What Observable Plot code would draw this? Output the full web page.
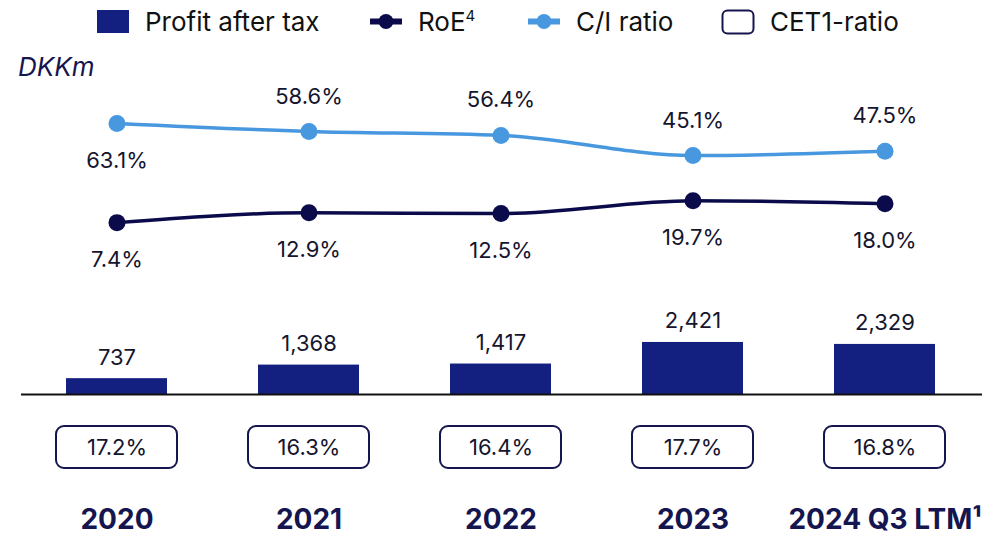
<!DOCTYPE html>
<html><head><meta charset="utf-8">
<script src="https://cdn.jsdelivr.net/npm/d3@7"></script>
<script src="https://cdn.jsdelivr.net/npm/@observablehq/plot@0.6"></script>
<style>
body{margin:0;width:998px;height:538px;position:relative;background:#fff;font-family:Inter,"Noto Sans",sans-serif;overflow:hidden}
.abs{position:absolute;left:0}
#legend text{font-family:Inter,sans-serif;font-size:26px;fill:#111}
</style></head><body>
<svg id="legend" class="abs" style="top:0" width="998" height="46">
  <rect x="97" y="10" width="32" height="23" fill="#13207f"></rect>
  <text x="145" y="31">Profit after tax</text>
  <line x1="370" x2="402" y1="21.5" y2="21.5" stroke="#0b0b4b" stroke-width="6"></line>
  <circle cx="386" cy="21.5" r="7.5" fill="#0b0b4b"></circle>
  <text x="418" y="31">RoE<tspan dy="-10" font-size="15">4</tspan></text>
  <line x1="528" x2="560" y1="21.5" y2="21.5" stroke="#4898e0" stroke-width="6"></line>
  <circle cx="544" cy="21.5" r="7.5" fill="#4898e0"></circle>
  <text x="576" y="31">C/I ratio</text>
  <rect x="722.5" y="10.5" width="31" height="23" rx="5" fill="#fff" stroke="#15154f" stroke-width="2"></rect>
  <text x="770" y="31">CET1-ratio</text>
</svg>
<div class="abs" style="left:18px;top:51px;font-style:italic;font-size:26px;color:#15154f">DKKm</div>
<div id="lines" class="abs" style="top:80px"></div>
<div id="bars" class="abs" style="top:280px"></div>
<div id="cet" class="abs" style="top:425px"></div>
<script>
const years = ["2020", "2021", "2022", "2023", "2024 Q3 LTM¹"];
const profit = [737, 1368, 1417, 2421, 2329];
const roe = [7.4, 12.9, 12.5, 19.7, 18.0];
const ci = [63.1, 58.6, 56.4, 45.1, 47.5];
const cet1 = [17.2, 16.3, 16.4, 17.7, 16.8];

const BAR = "#13207f", ROE = "#0b0b4b", CI = "#4898e0", NAVY = "#15154f", TXT = "#15152e";
const pct = v => v.toFixed(1) + "%";
const xScale = {type: "band", domain: years, paddingInner: 0.474, paddingOuter: 0, axis: null};
const common = {width: 998, marginLeft: 66, marginRight: 63, style: {fontFamily: "Inter, sans-serif", background: "transparent", overflow: "visible"}};

const ciData = years.map((y, i) => ({year: y, v: ci[i], i}));
const roeData = years.map((y, i) => ({year: y, v: roe[i], i}));
const profitData = years.map((y, i) => ({year: y, v: profit[i]}));
const cetData = years.map((y, i) => ({year: y, v: cet1[i]}));

const lines = Plot.plot({
  ...common, height: 200, marginTop: 30.7, marginBottom: 44.7,
  x: xScale, y: {domain: [0, 70], axis: null},
  marks: [
    Plot.lineY(ciData, {x: "year", y: "v", stroke: CI, strokeWidth: 3.5, curve: "monotone-x"}),
    Plot.dot(ciData, {x: "year", y: "v", r: 8.5, fill: CI}),
    Plot.lineY(roeData, {x: "year", y: "v", stroke: ROE, strokeWidth: 3.5, curve: "monotone-x"}),
    Plot.dot(roeData, {x: "year", y: "v", r: 8.5, fill: ROE}),
    Plot.text(ciData, {filter: d => d.i > 0, x: "year", y: "v", text: d => pct(d.v), dy: -35, fontSize: 22, fill: TXT}),
    Plot.text(ciData, {filter: d => d.i === 0, x: "year", y: "v", text: d => pct(d.v), dy: 37, fontSize: 22, fill: TXT}),
    Plot.text(roeData, {x: "year", y: "v", text: d => pct(d.v), dy: 37, fontSize: 22, fill: TXT})
  ]
});
document.getElementById("lines").append(lines);

const bars = Plot.plot({
  ...common, height: 258, marginTop: 49.5, marginBottom: 144,
  x: xScale, y: {domain: [0, 3000], axis: null},
  marks: [
    Plot.barY(profitData, {x: "year", y: "v", fill: BAR}),
    Plot.ruleY([0], {stroke: "#111", strokeWidth: 2, insetLeft: -45, insetRight: -47}),
    Plot.text(profitData, {x: "year", y: "v", text: d => d3.format(",")(d.v), dy: -21, fontSize: 22, fill: TXT})
  ]
});
document.getElementById("bars").append(bars);

const cet = Plot.plot({
  ...common, height: 113, marginTop: 1, marginBottom: 70,
  x: {...xScale, axis: null},
  marks: [
    Plot.cell(cetData, {x: "year", fill: "#fff", stroke: NAVY, strokeWidth: 2, rx: 8, insetLeft: -10, insetRight: -10}),
    Plot.text(cetData, {x: "year", text: d => pct(d.v), frameAnchor: "middle", fontSize: 22, fill: TXT}),
    Plot.axisX({tickSize: 0, tickPadding: 41, fontSize: 28, fontWeight: "bold", fill: NAVY, label: null})
  ]
});
document.getElementById("cet").append(cet);
</script>
</body></html>
